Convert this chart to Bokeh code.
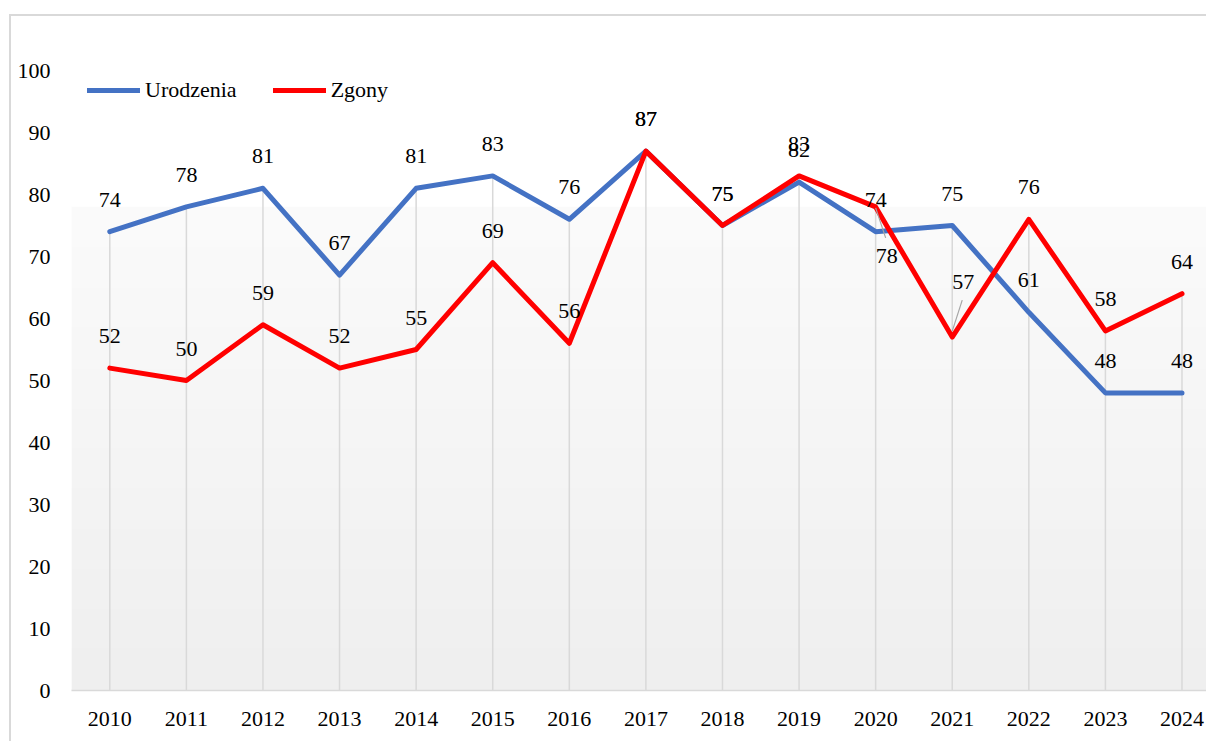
import numpy as np
from bokeh.plotting import figure
from bokeh.models import FixedTicker, Legend, LegendItem, ColumnDataSource, InlineStyleSheet
from bokeh.core.properties import value
from bokeh.embed import file_html
from bokeh.resources import INLINE

# ---- data ----
years = ["2010", "2011", "2012", "2013", "2014", "2015", "2016", "2017",
         "2018", "2019", "2020", "2021", "2022", "2023", "2024"]
urodzenia = [74, 78, 81, 67, 81, 83, 76, 87, 75, 82, 74, 75, 61, 48, 48]
zgony = [52, 50, 59, 52, 55, 69, 56, 87, 75, 83, 78, 57, 76, 58, 64]
y_ticks = list(range(0, 101, 10))

# ---- layout ----
FONT = "Liberation Serif"
W, H = 1206, 741
BL, BR, BT, BB = 71, 0, 70, 51
x_start, x_end = -0.5, 14.32
y_start, y_end = 0, 100
BLUE = "#4472C4"
RED = "#FF0000"
GRID = "#d9d9d9"

n = len(years)
xs = list(range(n))

p = figure(width=W, height=H, x_range=(x_start, x_end), y_range=(y_start, y_end),
           output_backend="svg", toolbar_location=None,
           min_border_left=BL, min_border_right=BR, min_border_top=BT, min_border_bottom=BB)
p.outline_line_color = None
p.background_fill_color = "white"
p.border_fill_color = "white"
p.xgrid.visible = False
p.ygrid.visible = False

# plot-area gradient background (decoration)
ng = 256
g = np.linspace(251, 239, ng)[::-1].astype(np.uint8)
img = np.empty((ng, 1), dtype=np.uint32)
view = img.view(dtype=np.uint8).reshape((ng, 1, 4))
view[:, 0, 0] = g
view[:, 0, 1] = g
view[:, 0, 2] = g
view[:, 0, 3] = 255
p.image_rgba(image=[img], x=x_start, y=0, dw=(x_end - x_start) + 1, dh=78)

# drop lines
tops = [max(a, b) for a, b in zip(urodzenia, zgony)]
p.segment(x0=xs, y0=[0] * n, x1=xs, y1=tops, line_color=GRID, line_width=1.5)

# series lines
r_u = p.line(xs, urodzenia, line_color=BLUE, line_width=5, line_join="round", line_cap="round")
r_z = p.line(xs, zgony, line_color=RED, line_width=5, line_join="round", line_cap="round")

# data labels
LAB_DY = -32
u_src = ColumnDataSource(dict(x=xs, y=urodzenia, t=[str(v) for v in urodzenia]))
p.text(x="x", y="y", text="t", source=u_src, text_font=value(FONT), text_font_size="22px",
       text_align="center", text_baseline="middle", y_offset=LAB_DY, text_color="black")

z_dx = [0] * n
z_dy = [LAB_DY] * n
z_dx[10], z_dy[10] = 11, 49
z_dx[11], z_dy[11] = 11, -55
z_src = ColumnDataSource(dict(x=xs, y=zgony, t=[str(v) for v in zgony], dx=z_dx, dy=z_dy))
p.text(x="x", y="y", text="t", source=z_src, text_font=value(FONT), text_font_size="22px",
       text_align="center", text_baseline="middle", x_offset="dx", y_offset="dy", text_color="black")

# leader lines (pixel offsets from the point, converted with the frame scale)
px_x = (W - BL - BR) / (x_end - x_start)
px_y = (H - BT - BB) / (y_end - y_start)
leaders = {10: ((0, 1), (10, 31)), 11: ((0, -6), (10, -37))}
lx0, ly0, lx1, ly1 = [], [], [], []
for i, ((ax, ay), (bx, by)) in leaders.items():
    lx0.append(xs[i] + ax / px_x)
    ly0.append(zgony[i] - ay / px_y)
    lx1.append(xs[i] + bx / px_x)
    ly1.append(zgony[i] - by / px_y)
p.segment(x0=lx0, y0=ly0, x1=lx1, y1=ly1, line_color="#a6a6a6", line_width=1.2)

# axes
p.xaxis.ticker = FixedTicker(ticks=xs)
p.xaxis.major_label_overrides = {i: y for i, y in enumerate(years)}
p.xaxis.major_tick_line_color = None
p.xaxis.minor_tick_line_color = None
p.xaxis.axis_line_color = GRID
p.xaxis.axis_line_width = 1.5
p.xaxis.major_label_standoff = 15
p.xaxis.major_label_text_font = FONT
p.xaxis.major_label_text_font_size = "22px"
p.xaxis.major_label_text_color = "black"

p.yaxis.ticker = FixedTicker(ticks=y_ticks)
p.yaxis.axis_line_color = None
p.yaxis.major_tick_line_color = None
p.yaxis.minor_tick_line_color = None
p.yaxis.major_label_standoff = 15
p.yaxis.major_label_text_font = FONT
p.yaxis.major_label_text_font_size = "22px"
p.yaxis.major_label_text_color = "black"

# legend
legend = Legend(items=[LegendItem(label="Urodzenia", renderers=[r_u]),
                       LegendItem(label="Zgony", renderers=[r_z])],
                orientation="horizontal", location=(16, 587),
                label_text_font=FONT, label_text_font_size="22px", label_text_color="black",
                glyph_width=53, glyph_height=20, label_standoff=5, spacing=36,
                padding=0, margin=0, border_line_alpha=0, background_fill_alpha=0)
p.add_layout(legend)

# chart-area border (top and left edges visible in the crop)
p.stylesheets = [InlineStyleSheet(css=(
    ":host::after{content:'';position:absolute;left:9px;top:14px;right:0;bottom:0;"
    "border-top:2px solid #d9d9d9;border-left:2px solid #d9d9d9;pointer-events:none;}"))]

open("out.html", "w").write(file_html(p, INLINE))
